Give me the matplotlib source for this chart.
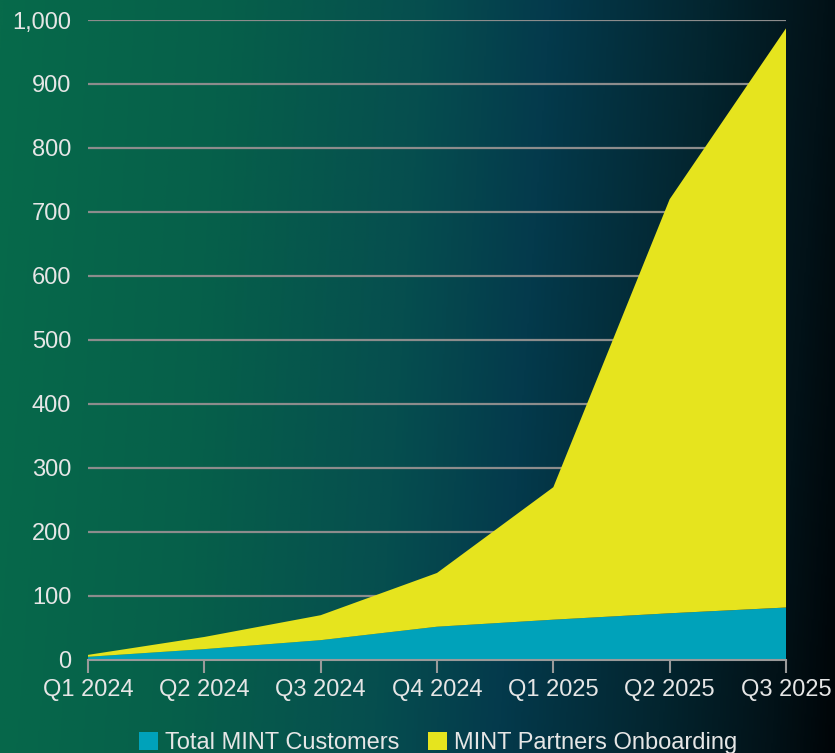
import numpy as np
import matplotlib
matplotlib.use("Agg")
import matplotlib.pyplot as plt
from matplotlib.colors import LinearSegmentedColormap
from matplotlib.patches import Patch

plt.rcParams['font.family'] = ['Liberation Sans', 'DejaVu Sans']

quarters = ["Q1 2024", "Q2 2024", "Q3 2024", "Q4 2024", "Q1 2025", "Q2 2025", "Q3 2025"]
customers = [5, 17, 31, 52, 63, 73, 82]
partners = [3, 19, 39, 84, 207, 647, 905]
series_names = ["Total MINT Customers", "MINT Partners Onboarding"]
yticks = [0, 100, 200, 300, 400, 500, 600, 700, 800, 900, 1000]

W, H = 835, 753
fig = plt.figure(figsize=(W / 100, H / 100), dpi=100)

# background gradient
bg = fig.add_axes([0, 0, 1, 1], zorder=0)
bg.set_axis_off()
nx, ny = 500, 400
xx, yy = np.meshgrid(np.linspace(0, 1, nx), np.linspace(0, 1, ny))
t = np.clip(0.94 * xx + 0.06 * yy, 0, 1)
cmap = LinearSegmentedColormap.from_list(
    "bg", [(0.0, "#076a4a"), (0.25, "#06604a"), (0.48, "#064e4f"), (0.62, "#043a4c"),
           (0.8, "#03252f"), (0.93, "#021218"), (1.0, "#000508")])
bg.imshow(t, cmap=cmap, aspect="auto", extent=[0, 1, 0, 1], origin="upper", vmin=0, vmax=1)
bg.set_xlim(0, 1)
bg.set_ylim(0, 1)

ax = fig.add_axes([88 / W, 93 / H, (786 - 88) / W, (660 - 20) / H], zorder=1)
ax.patch.set_alpha(0)
x = np.arange(len(quarters))
ax.stackplot(x, customers, partners, colors=["#00a2ba", "#e6e41e"], linewidth=0, zorder=3)
ax.set_xlim(0, len(quarters) - 1)
ax.set_ylim(0, 1000)
ax.set_yticks(yticks)
ax.set_yticklabels([f"{v:,}" for v in yticks])
ax.set_xticks(x)
ax.set_xticklabels(quarters)
for v in yticks[1:]:
    ax.axhline(v, color="#8c8c8c", lw=1.6, zorder=2)
for s in ["top", "right", "left"]:
    ax.spines[s].set_visible(False)
ax.spines["bottom"].set_color("#9a9a9a")
ax.spines["bottom"].set_linewidth(1.5)
ax.spines["bottom"].set_zorder(4)
ax.tick_params(axis="y", length=0, pad=12, labelsize=17, labelcolor="#e6e6e6")
ax.tick_params(axis="x", length=9, width=1.5, color="#9a9a9a", pad=5, labelsize=17, labelcolor="#e6e6e6")

handles = [Patch(facecolor="#00a2ba"), Patch(facecolor="#e6e41e")]
fig.legend(handles, series_names, loc="center", bbox_to_anchor=(0.525, 0.013), ncol=2,
           frameon=False, fontsize=17, labelcolor="#e6e6e6", handlelength=0.8, handleheight=0.8,
           handletextpad=0.3, columnspacing=1.2)

fig.savefig("out.png", dpi=100)
